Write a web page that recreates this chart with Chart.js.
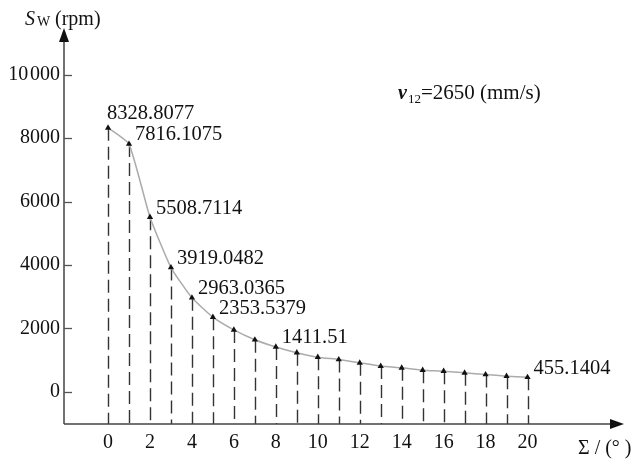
<!DOCTYPE html>
<html>
<head>
<meta charset="utf-8">
<script src="https://cdn.jsdelivr.net/npm/chart.js@4/dist/chart.umd.min.js"></script>
<style>
  html, body { margin: 0; padding: 0; background: #fff; }
  canvas { display: block; }
</style>
</head>
<body>
<canvas id="chart" width="636" height="461"></canvas>
<script>
// data
const sigma = [0, 1, 2, 3, 4, 5, 6, 7, 8, 9, 10, 11, 12, 13, 14, 15, 16, 17, 18, 19, 20];
const speed = [8328.8077, 7816.1075, 5508.7114, 3919.0482, 2963.0365, 2353.5379, 1950, 1640,
               1411.51, 1230, 1090, 1015, 910, 808, 752, 680, 648, 595, 541, 490, 455.1404];
const labelled = [0, 1, 2, 3, 4, 5, 8, 20];
const xTicks = [0, 2, 4, 6, 8, 10, 12, 14, 16, 18, 20];
const yTicks = [0, 2000, 4000, 6000, 8000, 10000];

const SERIF = '"Liberation Serif", "Times New Roman", serif';
const INK = '#111';

// axes with arrows, inward ticks, dashed drop lines, labels, titles
const decor = {
  id: 'decor',
  beforeDatasetsDraw(chart) {
    const { ctx, chartArea: a } = chart;
    const meta = chart.getDatasetMeta(0);
    ctx.save();
    ctx.strokeStyle = '#333';
    ctx.lineWidth = 1.4;
    ctx.setLineDash([13, 6]);
    meta.data.forEach(p => {
      ctx.beginPath();
      ctx.moveTo(Math.round(p.x) + 0.5, p.y);
      ctx.lineTo(Math.round(p.x) + 0.5, a.bottom);
      ctx.stroke();
    });
    ctx.restore();
  },
  afterDraw(chart) {
    const { ctx, chartArea: a, scales: { y } } = chart;
    const meta = chart.getDatasetMeta(0);
    const ax = a.left, ay = a.bottom;
    ctx.save();

    // axis lines
    ctx.strokeStyle = '#444';
    ctx.fillStyle = '#111';
    ctx.lineWidth = 1.5;
    ctx.beginPath();
    ctx.moveTo(ax, ay);
    ctx.lineTo(ax, a.top + 10);
    ctx.moveTo(ax, ay);
    ctx.lineTo(a.right - 10, ay);
    ctx.stroke();

    // arrow heads
    ctx.beginPath();
    ctx.moveTo(ax, a.top);
    ctx.lineTo(ax - 5, a.top + 14);
    ctx.lineTo(ax + 5, a.top + 14);
    ctx.closePath();
    ctx.fill();
    ctx.beginPath();
    ctx.moveTo(a.right, ay);
    ctx.lineTo(a.right - 14, ay - 5);
    ctx.lineTo(a.right - 14, ay + 5);
    ctx.closePath();
    ctx.fill();

    // inward y ticks
    ctx.lineWidth = 1.3;
    ctx.strokeStyle = '#555';
    yTicks.forEach(v => {
      const py = Math.round(y.getPixelForValue(v)) + 0.5;
      ctx.beginPath();
      ctx.moveTo(ax, py);
      ctx.lineTo(ax + 8, py);
      ctx.stroke();
    });

    // point value labels
    ctx.fillStyle = INK;
    ctx.font = '20.5px ' + SERIF;
    ctx.textAlign = 'left';
    ctx.textBaseline = 'middle';
    labelled.forEach(i => {
      const p = meta.data[i];
      const dx = i === 0 ? -1 : 6;
      const dy = i === 0 ? -14 : -9;
      ctx.fillText(String(speed[i]), p.x + dx, p.y + dy);
    });

    // y title: S_W (rpm)
    ctx.textBaseline = 'alphabetic';
    ctx.font = 'italic 20px ' + SERIF;
    ctx.fillText('S', 25, 25);
    ctx.font = '14px ' + SERIF;
    ctx.fillText('W', 37, 26);
    ctx.font = '20px ' + SERIF;
    ctx.fillText('(rpm)', 55, 25);

    // x title
    ctx.fillText('\u03A3 / (\u00B0 )', 578, 454);

    // velocity note
    let tx = 398;
    ctx.font = 'bold italic 20px ' + SERIF;
    ctx.fillText('v', tx, 99);
    tx += ctx.measureText('v').width + 1;
    ctx.font = '13px ' + SERIF;
    ctx.fillText('12', tx, 103);
    tx += ctx.measureText('12').width;
    ctx.font = '21px ' + SERIF;
    ctx.fillText('=2650 (mm/s)', tx, 99);

    ctx.restore();
  }
};

new Chart(document.getElementById('chart'), {
  type: 'line',
  data: {
    datasets: [{
      data: sigma.map((s, i) => ({ x: s, y: speed[i] })),
      borderColor: '#ababab',
      borderWidth: 1.5,
      tension: 0.15,
      pointStyle: 'triangle',
      pointRadius: 3.6,
      pointBackgroundColor: '#111',
      pointBorderColor: '#111',
      pointBorderWidth: 0,
      clip: false
    }]
  },
  options: {
    responsive: false,
    devicePixelRatio: 1,
    animation: false,
    layout: { padding: { top: 28, right: 12, left: 0, bottom: 0 } },
    plugins: { legend: { display: false }, tooltip: { enabled: false } },
    scales: {
      x: {
        type: 'linear',
        min: -2.1,
        max: 24.6,
        grid: { display: false, drawTicks: false },
        border: { display: false },
        afterBuildTicks(s) { s.ticks = xTicks.map(v => ({ value: v })); },
        afterFit(s) { s.height = 37; },
        ticks: {
          padding: 7,
          color: INK,
          font: { family: SERIF, size: 20 },
          maxRotation: 0,
          autoSkip: false
        }
      },
      y: {
        min: -1020,
        max: 11480,
        grid: { display: false, drawTicks: false },
        border: { display: false },
        afterBuildTicks(s) { s.ticks = yTicks.map(v => ({ value: v })); },
        afterFit(s) { s.width = 64; },
        ticks: {
          padding: 4,
          color: INK,
          font: { family: SERIF, size: 20 },
          callback: v => v === 10000 ? '10\u200A000' : String(v)
        }
      }
    }
  },
  plugins: [decor]
});
</script>
</body>
</html>
